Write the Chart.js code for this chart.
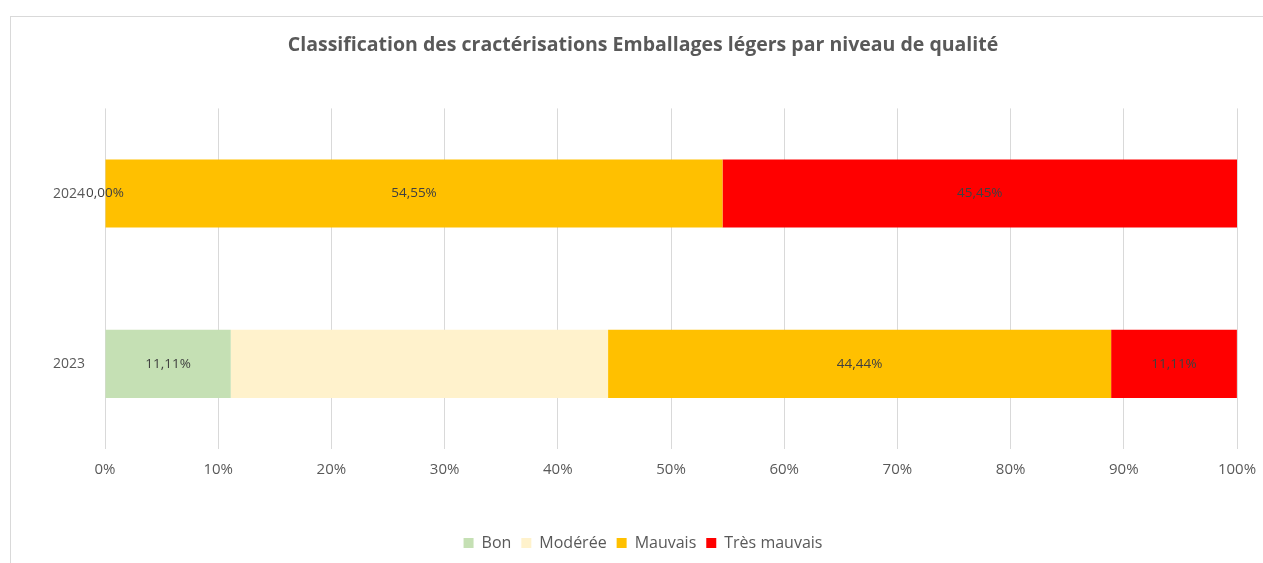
<!DOCTYPE html>
<html>
<head>
<meta charset="utf-8">
<script src="https://cdn.jsdelivr.net/npm/chart.js@4.4.0/dist/chart.umd.min.js"></script>
<style>
    html, body { margin: 0; padding: 0; background: #fff; overflow: hidden; width: 1263px; height: 563px; }
    #cadre { position: absolute; left: 10px; top: 16px; width: 1266px; height: 600px; border: 1px solid #d9d9d9; box-sizing: border-box; }
    #cadre canvas { position: absolute; left: 0; top: 0; }
</style>
</head>
<body>
<div id="cadre"><canvas id="myChart" width="1264" height="546"></canvas></div>
<script>
    // données (en %)
    const annees = ['2024', '2023'];
    const bon = [0, 11.11];
    const moderee = [0, 33.33];
    const mauvais = [54.55, 44.44];
    const tresMauvais = [45.45, 11.11];
    const ticksX = ['0%', '10%', '20%', '30%', '40%', '50%', '60%', '70%', '80%', '90%', '100%'];

    const police = '"Open Sans", Lato, sans-serif';

    // étiquettes de valeurs au centre des barres
    const etiquettes = {
        id: 'etiquettes',
        afterDatasetsDraw(chart) {
            const ctx = chart.ctx;
            ctx.save();
            ctx.font = '13.5px ' + police;
            ctx.fillStyle = '#404040';
            ctx.textAlign = 'center';
            ctx.textBaseline = 'middle';
            chart.data.datasets.forEach(function (ds, i) {
                if (ds.sansEtiquette) return;
                chart.getDatasetMeta(i).data.forEach(function (bar, j) {
                    const v = ds.data[j];
                    const x = (bar.x + bar.base) / 2;
                    ctx.fillText(v.toFixed(2).replace('.', ',') + '%', x, bar.y);
                });
            });
            ctx.restore();
        }
    };

    const ctx = document.getElementById('myChart').getContext('2d');
    const myChart = new Chart(ctx, {
        type: 'bar',
        data: {
            labels: annees,
            datasets: [
                {label: 'Bon', data: bon, backgroundColor: '#C5E0B4'},
                {label: 'Modérée', data: moderee, backgroundColor: '#FFF2CC', sansEtiquette: true},
                {label: 'Mauvais', data: mauvais, backgroundColor: '#FFC000'},
                {label: 'Très mauvais', data: tresMauvais, backgroundColor: '#FF0000'}
            ]
        },
        options: {
            responsive: false,
            animation: false,
            indexAxis: 'y',
            barPercentage: 0.4,
            categoryPercentage: 1,
            layout: {padding: {left: 0, right: 0, top: 0, bottom: 2}},
            scales: {
                x: {
                    stacked: true,
                    min: 0,
                    max: 100,
                    afterFit: (s) => { s.height = 76; },
                    afterBuildTicks: (s) => { s.ticks = ticksX.map((t, i) => ({value: i * 10})); },
                    ticks: {
                        padding: 12,
                        color: '#595959',
                        font: {family: police, size: 15},
                        callback: (v, i) => ticksX[i]
                    },
                    grid: {color: '#d9d9d9', drawTicks: false},
                    border: {display: false}
                },
                y: {
                    stacked: true,
                    afterFit: (s) => { s.width = 94; },
                    ticks: {
                        padding: 20,
                        color: '#595959',
                        font: {family: police, size: 14}
                    },
                    grid: {display: false, drawTicks: false},
                    border: {display: false}
                },
                // marge à droite, pour garder le titre et la légende centrés sur le cadre
                marge: {
                    type: 'category',
                    axis: 'y',
                    position: 'right',
                    afterFit: (s) => { s.width = 38; },
                    ticks: {display: false},
                    grid: {display: false, drawTicks: false},
                    border: {display: false}
                }
            },
            plugins: {
                title: {
                    display: true,
                    text: 'Classification des cractérisations Emballages légers par niveau de qualité',
                    color: '#595959',
                    font: {family: police, size: 19.5, weight: 'bold'},
                    padding: {top: 17, bottom: 51}
                },
                legend: {
                    position: 'bottom',
                    labels: {
                        color: '#595959',
                        font: {family: police, size: 16},
                        boxWidth: 10,
                        boxHeight: 10,
                        padding: 10
                    }
                },
                tooltip: {enabled: false}
            }
        },
        plugins: [etiquettes]
    });
</script>
</body>
</html>
